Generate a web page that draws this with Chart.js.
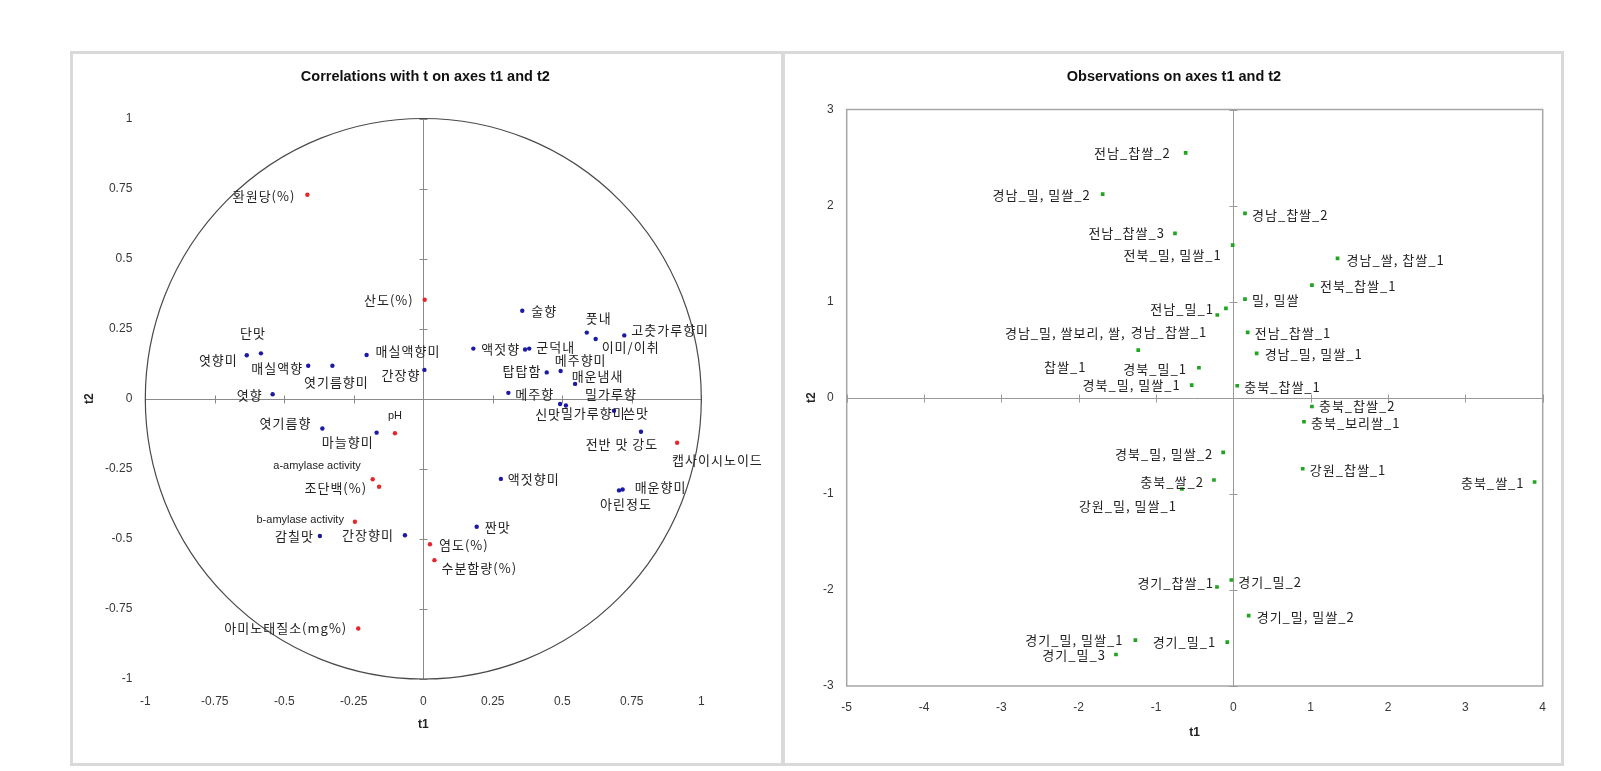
<!DOCTYPE html>
<html><head><meta charset="utf-8">
<script src="https://cdn.jsdelivr.net/npm/chart.js@4/dist/chart.umd.min.js"></script>
<style>
html,body{margin:0;padding:0;background:#fff;}
body{width:1601px;height:771px;position:relative;overflow:hidden;}
.panel{position:absolute;border:3px solid #d9d9d9;box-sizing:border-box;}
canvas{position:absolute;}
</style></head><body>
<div class="panel" style="left:70px;top:51px;width:714px;height:715px"></div>
<div class="panel" style="left:782px;top:51px;width:782px;height:715px"></div>
<canvas id="c1" width="711" height="710" style="left:72px;top:53px"></canvas>
<canvas id="c2" width="779" height="710" style="left:783px;top:53px"></canvas>
<script>
// ---------- data ----------
const corrTickLabels = ['-1','-0.75','-0.5','-0.25','0','0.25','0.5','0.75','1'];
const obsXTickLabels = ['-5','-4','-3','-2','-1','0','1','2','3','4'];
const obsYTickLabels = ['-3','-2','-1','0','1','2','3'];

const sensoryNames = ['단맛','엿향미','매실액향','엿기름향미','매실액향미','간장향','엿향','엿기름향','마늘향미','감칠맛','간장향미','짠맛','액젓향미','술향','액젓향','탑탑함','군덕내','풋내','이미/이취','고춧가루향미','메주향미','매운냄새','밀가루향','메주향','신맛','밀가루향미','쓴맛','전반 맛 강도','아린정도','매운향미'];
const sensoryT1 = [-0.584,-0.635,-0.414,-0.327,-0.204,0.004,-0.542,-0.363,-0.168,-0.372,-0.066,0.192,0.279,0.356,0.180,0.366,0.381,0.588,0.620,0.723,0.444,0.494,0.546,0.306,0.492,0.513,0.686,0.783,0.704,0.717];
const sensoryT2 = [0.162,0.155,0.118,0.118,0.156,0.103,0.016,-0.106,-0.121,-0.490,-0.487,-0.457,-0.286,0.314,0.179,0.176,0.179,0.236,0.213,0.226,0.094,0.099,0.053,0.021,-0.019,-0.024,-0.043,-0.118,-0.327,-0.324];

const physNames = ['환원당(%)','산도(%)','pH','a-amylase activity','조단백(%)','b-amylase activity','염도(%)','수분함량(%)','아미노태질소(mg%)','캡사이시노이드'];
const physT1 = [-0.417,0.005,-0.102,-0.182,-0.159,-0.246,0.024,0.040,-0.234,0.913];
const physT2 = [0.728,0.353,-0.123,-0.287,-0.314,-0.439,-0.519,-0.576,-0.820,-0.157];

const obsNames = ['전남_찹쌀_2','경남_밀, 밀쌀_2','경남_찹쌀_2','전남_찹쌀_3','전북_밀, 밀쌀_1','경남_쌀, 찹쌀_1','전북_찹쌀_1','밀, 밀쌀','경남_찹쌀_1','전남_밀_1','전남_찹쌀_1','경남_밀, 쌀보리, 쌀, 찹쌀_1','경남_밀, 밀쌀_1','경북_밀_1','경북_밀, 밀쌀_1','충북_찹쌀_1','충북_찹쌀_2','충북_보리쌀_1','경북_밀, 밀쌀_2','강원_찹쌀_1','충북_쌀_1','충북_쌀_2','강원_밀, 밀쌀_1','경기_밀_2','경기_찹쌀_1','경기_밀, 밀쌀_2','경기_밀, 밀쌀_1','경기_밀_1','경기_밀_3'];
const obsT1 = [-0.617,-1.690,0.150,-0.755,-0.009,1.347,1.016,0.150,-0.208,-0.096,0.185,-1.230,0.301,-0.445,-0.539,0.050,1.016,0.913,-0.132,0.897,3.895,-0.251,-0.665,-0.026,-0.212,0.198,-1.267,-0.079,-1.518];
const obsT2 = [2.549,2.120,1.919,1.711,1.589,1.451,1.173,1.027,0.861,0.930,0.681,0.496,0.462,0.312,0.132,0.125,-0.091,-0.250,-0.568,-0.739,-0.877,-0.856,-0.950,-1.897,-1.970,-2.268,-2.523,-2.544,-2.672];

// ---------- label placement (style only) ----------
const sensoryLabelPos = [['center',-8,-20],['right',-9,5],['right',-5,2],['center',4,16],['left',9,-4],['right',-4,5],['right',-10,1],['right',-11,-5],['right',-3,9],['right',-6,0],['right',-11,0],['left',8,0],['left',7,0],['left',9,0],['left',8,0],['center',-3,22],['left',7,-2],['center',12,-15],['left',6,8],['left',7,-5],['left',8,-12],['left',11,5],['left',10,10],['left',7,1],['right',1,10],['left',-5,8],['left',9,2],['center',-19,12],['center',7,14],['left',12,-2]];
const physLabelPos = [['right',-12,1],['right',-11,0],['center',0,-17],['right',-12,-13],['right',-12,1],['right',-11,-2],['left',9,1],['left',7,8],['right',-11,0],['left',-5,17]];
const obsLabelPos = [['right',-15,0],['right',-12,1],['left',7,2],['right',-10,0],['right',-11,10],['left',9,2],['left',8,1],['left',7,1],['right',-10,17],['right',-12,1],['left',7,1],['center',-73,-0.5,34],['left',8,1],['right',-12,1],['right',-11,0],['left',7,1],['left',7,0],['left',7,1],['right',-10,2],['left',7,1],['right',-10,1],['right',-10,2],['center',-54,17],['left',7,2],['right',-3,-4],['left',8,1],['right',-12,0],['right',-11,0],['right',-10,1]];

const pts = (xs, ys) => xs.map((v, i) => ({x: v, y: ys[i]}));

const annotate = {
  id: 'annotate',
  beforeDatasetsDraw(chart, _a, o) {
    const {ctx, chartArea: a, scales: {x, y}} = chart;
    const x0 = Math.round(x.getPixelForValue(0)) + 0.5;
    const y0 = Math.round(y.getPixelForValue(0)) + 0.5;
    ctx.save();
    if (o.frame) {
      ctx.strokeStyle = o.frame; ctx.lineWidth = 1.5;
      ctx.strokeRect(a.left, a.top, a.right - a.left, a.bottom - a.top);
    }
    ctx.strokeStyle = o.axis; ctx.lineWidth = 1;
    ctx.beginPath();
    ctx.moveTo(a.left, y0); ctx.lineTo(a.right, y0);
    ctx.moveTo(x0, a.top); ctx.lineTo(x0, a.bottom);
    x.ticks.forEach(t => { const p = Math.round(x.getPixelForValue(t.value)) + 0.5; ctx.moveTo(p, y0 - o.tick); ctx.lineTo(p, y0 + o.tick); });
    y.ticks.forEach(t => { const p = Math.round(y.getPixelForValue(t.value)) + 0.5; ctx.moveTo(x0 - o.tick, p); ctx.lineTo(x0 + o.tick, p); });
    ctx.stroke();
    if (o.circle) {
      const cx = x.getPixelForValue(0), cy = y.getPixelForValue(0);
      const rx = x.getPixelForValue(1) - cx, ry = cy - y.getPixelForValue(1);
      ctx.strokeStyle = o.circle; ctx.lineWidth = 1.2;
      ctx.beginPath(); ctx.ellipse(cx, cy, rx, ry, 0, 0, Math.PI * 2); ctx.stroke();
    }
    ctx.restore();
  },
  afterDatasetsDraw(chart, _a, o) {
    const {ctx, chartArea: a} = chart;
    ctx.save();
    ctx.textBaseline = 'middle';
    ctx.fillStyle = o.textColor;
    chart.data.datasets.forEach((ds, i) => {
      const meta = chart.getDatasetMeta(i);
      ds.pointLabels.forEach((txt, j) => {
        const el = meta.data[j];
        const [align, dx, dy, gap] = ds.labelPos[j];
        const latin = /^[\x20-\x7E]+$/.test(txt);
        ctx.font = latin ? o.latinFont : o.font;
        ctx.letterSpacing = latin ? '0px' : o.spacing;
        ctx.textAlign = align;
        if (gap) {
          const k = txt.lastIndexOf(' ');
          ctx.fillText(txt.slice(0, k), el.x + dx, el.y + dy - gap / 2);
          ctx.fillText(txt.slice(k + 1), el.x + dx, el.y + dy + gap / 2);
        } else {
          ctx.fillText(txt, el.x + dx, el.y + dy);
        }
      });
    });
    ctx.letterSpacing = '0px';
    ctx.font = o.titleFont; ctx.fillStyle = '#111'; ctx.textAlign = 'center';
    ctx.fillText(o.title, (a.left + a.right) / 2 + o.titleDx, a.top + o.titleDy);
    ctx.restore();
  }
};

const tickFont = {family: '"Liberation Sans", Arial, sans-serif', size: 12};
const axisTitleFont = {family: '"Liberation Sans", Arial, sans-serif', size: 12, weight: 'bold'};
const tickColor = '#383838';

function scatterChart(canvas, datasets, c) {
  return new Chart(canvas, {
    type: 'scatter',
    data: {datasets},
    options: {
      responsive: false, animation: false, devicePixelRatio: 1, events: [],
      layout: {padding: c.padding},
      plugins: {legend: {display: false}, tooltip: {enabled: false}, title: {display: false}, annotate: c.annotate},
      scales: {
        x: {
          type: 'linear', position: 'bottom', min: c.xMin, max: c.xMax,
          ticks: {stepSize: c.xStep, autoSkip: false, maxRotation: 0, padding: c.xPad, font: tickFont, color: tickColor,
                  callback: (v, i) => c.xLabels[i]},
          grid: {display: false, drawTicks: false, tickLength: 0}, border: {display: false},
          title: {display: true, text: 't1', font: axisTitleFont, color: '#222', padding: {top: 0, bottom: 0}},
          afterFit: s => { s.height = c.xH; }
        },
        y: {
          type: 'linear', position: 'left', min: c.yMin, max: c.yMax,
          ticks: {stepSize: c.yStep, autoSkip: false, padding: c.yPad, font: tickFont, color: tickColor,
                  callback: (v, i) => c.yLabels[i]},
          grid: {display: false, drawTicks: false, tickLength: 0}, border: {display: false},
          title: {display: true, text: 't2', font: axisTitleFont, color: '#222', padding: {top: 0, bottom: 0}},
          afterFit: s => { s.width = c.yW; }
        }
      }
    },
    plugins: [annotate]
  });
}

const labelStyle = {font: '13px "Noto Sans CJK KR", sans-serif', latinFont: '11px "Liberation Sans", Arial, sans-serif', spacing: '1px', textColor: '#222', titleFont: 'bold 14.5px "Liberation Sans", Arial, sans-serif'};

scatterChart(document.getElementById('c1'), [
  {data: pts(sensoryT1, sensoryT2), pointLabels: sensoryNames, labelPos: sensoryLabelPos,
   pointStyle: 'circle', pointRadius: 2.2, backgroundColor: '#1a1aa5', borderWidth: 0},
  {data: pts(physT1, physT2), pointLabels: physNames, labelPos: physLabelPos,
   pointStyle: 'circle', pointRadius: 2.2, backgroundColor: '#e5262a', borderWidth: 0}
], {
  padding: {left: 10.8, top: 65.5, right: 81.7, bottom: 30.8},
  xMin: -1, xMax: 1, xStep: 0.25, xLabels: corrTickLabels, xPad: 15, xH: 53.2,
  yMin: -1, yMax: 1, yStep: 0.25, yLabels: corrTickLabels, yPad: 13, yW: 62.5,
  annotate: Object.assign({axis: '#8a8a8a', tick: 4, circle: '#4a4a4a', frame: null,
    title: 'Correlations with t on axes t1 and t2', titleDx: 2, titleDy: -41.5}, labelStyle)
});

scatterChart(document.getElementById('c2'), [
  {data: pts(obsT1, obsT2), pointLabels: obsNames, labelPos: obsLabelPos,
   pointStyle: 'rect', pointRadius: 2.6, backgroundColor: '#1fa51f', borderWidth: 0}
], {
  padding: {left: 21.8, top: 56.5, right: 19.3, bottom: 22.8},
  xMin: -5, xMax: 4, xStep: 1, xLabels: obsXTickLabels, xPad: 14.4, xH: 54.2,
  yMin: -3, yMax: 3, yStep: 1, yLabels: obsYTickLabels, yPad: 13, yW: 41.9,
  annotate: Object.assign({axis: '#9a9a9a', tick: 4, circle: null, frame: '#a6a6a6',
    title: 'Observations on axes t1 and t2', titleDx: -20.7, titleDy: -32.1}, labelStyle)
});
</script>
</body></html>
